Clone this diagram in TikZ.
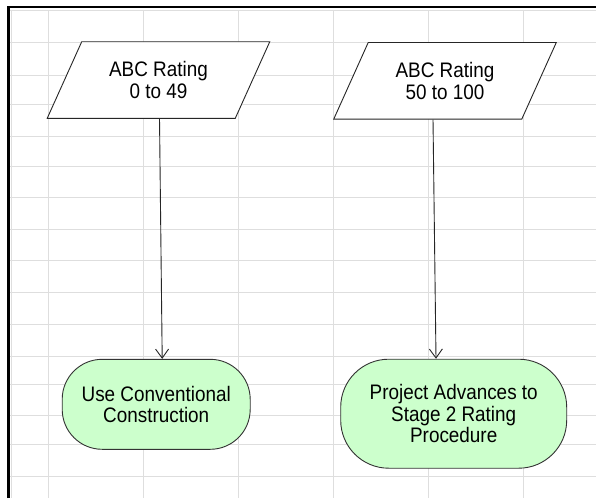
\documentclass[tikz,border=0pt]{standalone}
\usepackage{fontspec}
\setmainfont{Liberation Sans}[FakeStretch=0.9]
\usetikzlibrary{shapes.geometric,arrows.meta}
\definecolor{termgreen}{RGB}{204,255,204}
\definecolor{gridgray}{RGB}{222,222,222}
\begin{document}
\begin{tikzpicture}[x=1pt,y=-1pt,
  gridline/.style={draw=gridgray, line width=1pt},
  frame/.style={draw=black, line width=2.6pt},
  label/.style={align=center, font=\fontsize{21}{21.5}\selectfont, inner sep=0pt},
  iobox/.style={label, trapezium, trapezium left angle=59, trapezium right angle=121,
    trapezium stretches=true, draw=black!85, fill=white, line width=0.9pt,
    minimum width=223pt, minimum height=76.6pt},
  endbox/.style={label, rectangle, draw=black!80, fill=termgreen, line width=0.9pt},
  flow/.style={draw=black!85, line width=0.9pt, -{Straight Barb[length=9pt,width=13pt]}}]

% page and sheet grid
\useasboundingbox (0,0) rectangle (596,498);
\fill[white] (0,0) rectangle (596,498);
\foreach \x in {11,48,143,238,333,428,523}
  \draw[gridline] (\x,10) -- (\x,498);
\foreach \y in {10,42,75,104,136,166,197,229,260,292,324,356,384,415,444,476}
  \draw[gridline] (10,\y) -- (596,\y);
\draw[frame] (8.7,498) -- (8.7,7) -- (596,7);

% input ranges
\node[iobox] (in1) at (158.5,80) {ABC Rating\\0 to 49};
\node[iobox] (in2) at (445,80.8) {ABC Rating\\50 to 100};

% outcomes
\node[endbox, minimum width=188pt, minimum height=90pt, rounded corners=40pt]
  (t1) at (156.2,404.3) {Use Conventional\\Construction};
\node[endbox, minimum width=226pt, minimum height=109pt, rounded corners=48pt]
  (t2) at (453.7,413.7) {Project Advances to\\Stage 2 Rating\\Procedure};

% connectors
\draw[flow] ([xshift=1pt]in1.south) -- ([xshift=6pt]t1.north);
\draw[flow] ([xshift=-12pt]in2.south) -- ([xshift=-17.7pt]t2.north);
\end{tikzpicture}
\end{document}
